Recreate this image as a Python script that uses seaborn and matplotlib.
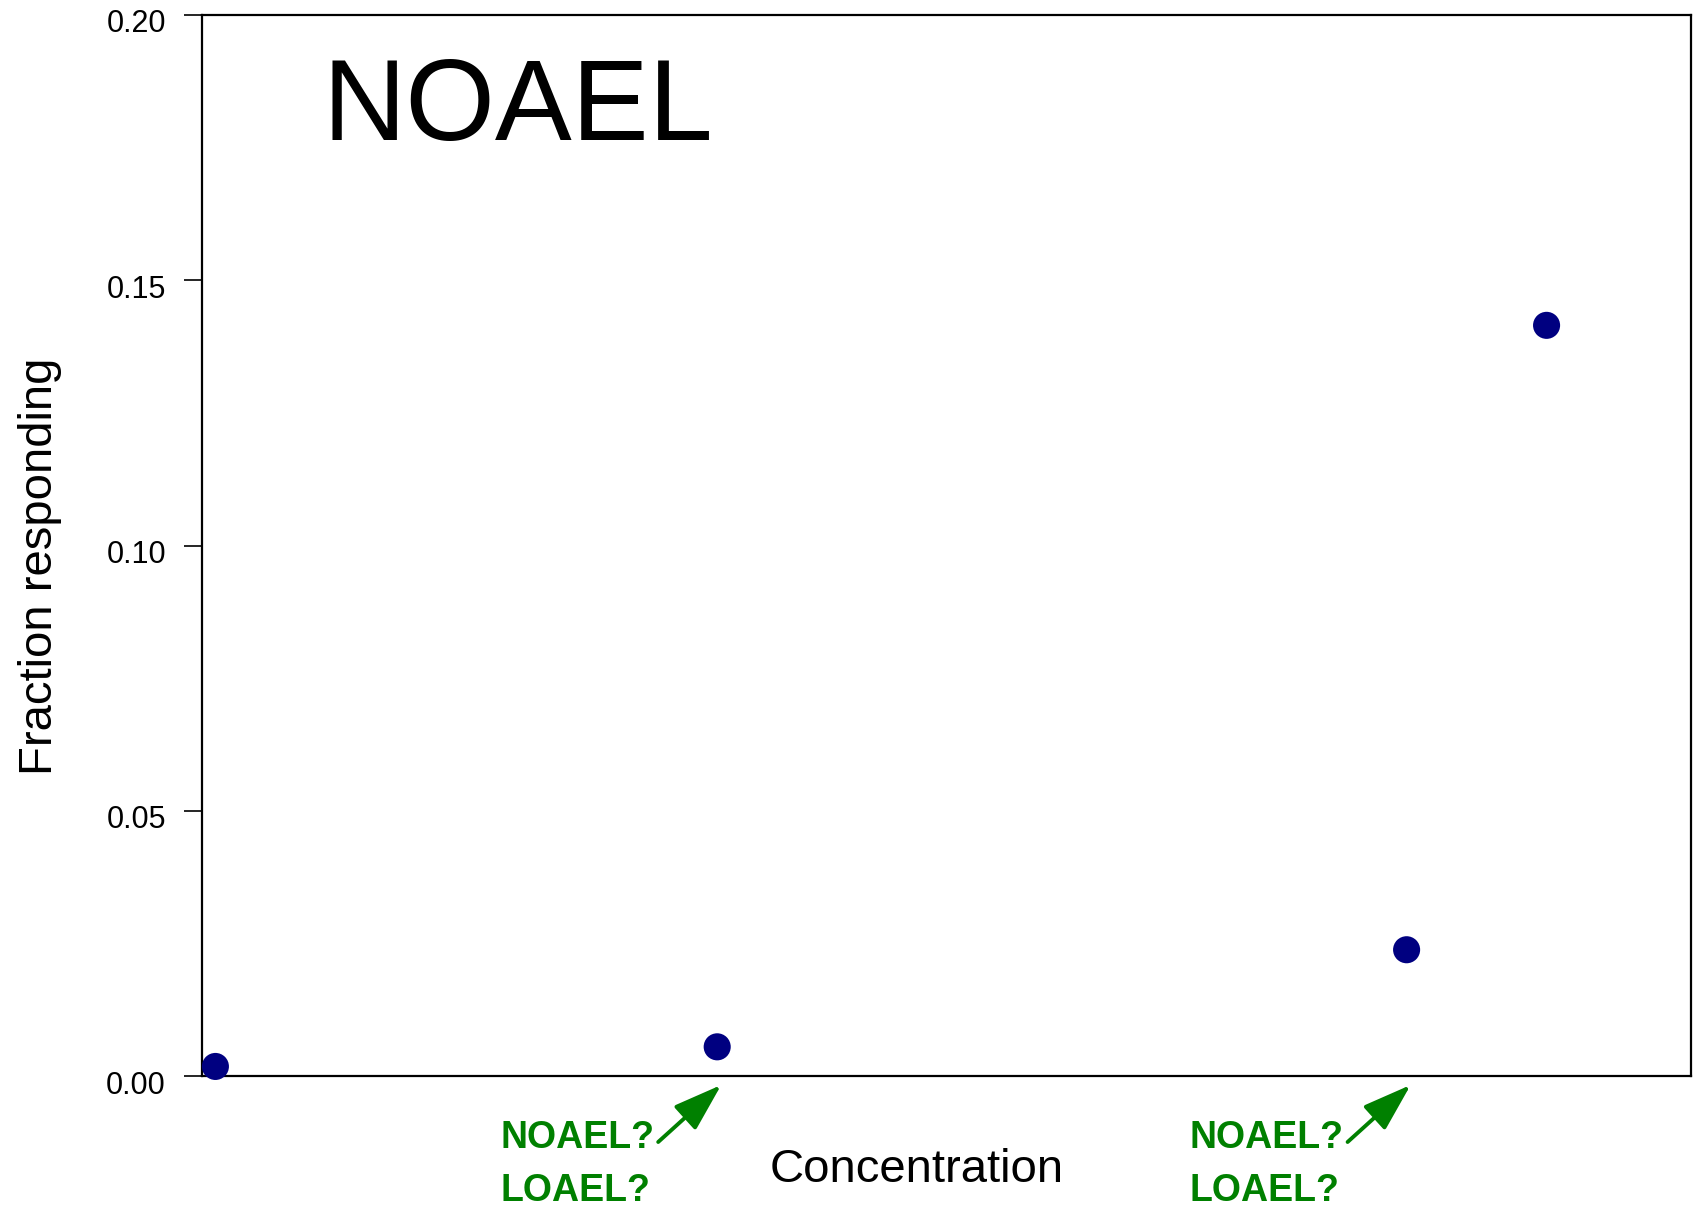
import matplotlib
matplotlib.use("Agg")
import matplotlib.pyplot as plt
import seaborn as sns
import pandas as pd
from matplotlib.transforms import blended_transform_factory, ScaledTranslation

# Data
concentration = [0.09, 3.46, 8.09, 9.03]
fraction = [0.0018, 0.0055, 0.0238, 0.1415]
y_ticks = [0.00, 0.05, 0.10, 0.15, 0.20]
y_tick_labels = ["0.00", "0.05", "0.10", "0.15", "0.20"]
annot_x = [3.46, 8.09]
annot_line1 = ["NOAEL?", "NOAEL?"]
annot_line2 = ["LOAEL?", "LOAEL?"]

df = pd.DataFrame({"Concentration": concentration, "Fraction responding": fraction})

sns.set_theme(style="white")
plt.rcParams['font.family'] = ['Liberation Sans', 'DejaVu Sans']
plt.rcParams['text.color'] = 'black'
plt.rcParams['axes.labelcolor'] = 'black'
plt.rcParams['xtick.color'] = 'black'
plt.rcParams['ytick.color'] = 'black'

fig = plt.figure(figsize=(16.94, 12.10), dpi=100)
ax = fig.add_axes([202/1694, 1 - 1076/1210, (1691-202)/1694, (1076-15)/1210])

sns.scatterplot(data=df, x="Concentration", y="Fraction responding", ax=ax,
                color="#000080", s=380, edgecolor="none", clip_on=False, zorder=5)

ax.set_xlim(0, 10)
ax.set_ylim(0, 0.20)
ax.set_xticks([])
ax.set_yticks(y_ticks)
ax.set_yticklabels(y_tick_labels, fontsize=22)
ax.tick_params(axis='y', direction='out', length=13, width=1.2, pad=13, left=True)
for lab in ax.get_yticklabels():
    lab.set_transform(lab.get_transform() + ScaledTranslation(0, -6/100, fig.dpi_scale_trans))

for sp in ax.spines.values():
    sp.set_visible(True)
    sp.set_color('black')
    sp.set_linewidth(1.6)

ax.set_ylabel("Fraction responding", fontsize=34)
ax.yaxis.set_label_coords(-0.094, 0.48)
ax.set_xlabel("Concentration", fontsize=34)
ax.xaxis.set_label_coords(0.48, -0.068)

ax.text(0.081, 0.882, "NOAEL", transform=ax.transAxes, fontsize=83,
        va='baseline', ha='left', color='black')

trans = blended_transform_factory(ax.transData, ax.transAxes)
tip_trans = trans + ScaledTranslation(4/100, -9/100, fig.dpi_scale_trans)
for xv, t1, t2 in zip(annot_x, annot_line1, annot_line2):
    ax.annotate("", xy=(xv, 0), xycoords=tip_trans,
                xytext=(-63, -57), textcoords='offset pixels',
                arrowprops=dict(arrowstyle='-|>,head_length=3.0,head_width=1.0',
                                mutation_scale=10, shrinkA=0, shrinkB=0,
                                color='#008000', lw=2.8), annotation_clip=False)
    ax.annotate(t1, xy=(xv, 0), xycoords=trans,
                xytext=(-217, -72), textcoords='offset pixels',
                fontsize=27, fontweight='bold', color='#008000',
                ha='left', va='baseline', annotation_clip=False)
    ax.annotate(t2, xy=(xv, 0), xycoords=trans,
                xytext=(-217, -125), textcoords='offset pixels',
                fontsize=27, fontweight='bold', color='#008000',
                ha='left', va='baseline', annotation_clip=False)

fig.savefig("out.png", dpi=100)
